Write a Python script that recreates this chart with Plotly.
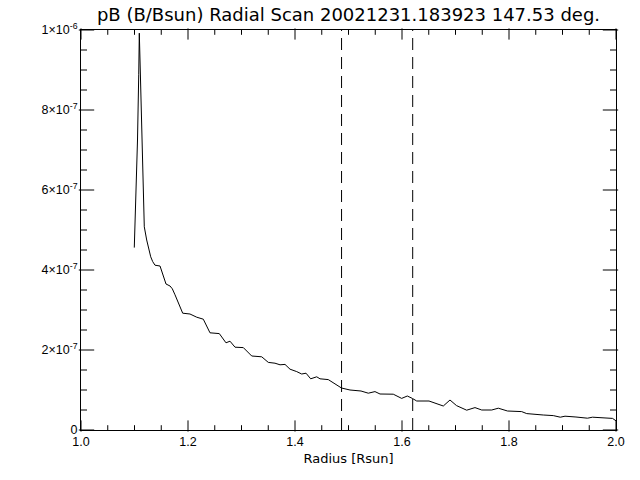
import plotly.graph_objects as go

radius = [1.0996, 1.1024, 1.1056, 1.1079, 1.1090, 1.1108, 1.1131, 1.1159, 1.1183, 1.1228,
          1.1271, 1.1303, 1.1340, 1.1383, 1.1477, 1.1520, 1.1557, 1.1589, 1.1664, 1.1707,
          1.1757, 1.1800, 1.1850, 1.1901, 1.2037, 1.2163, 1.2286, 1.2411, 1.2585, 1.2710,
          1.2785, 1.2879, 1.3034, 1.3191, 1.3378, 1.3501, 1.3626, 1.3720, 1.3813, 1.3907,
          1.4032, 1.4125, 1.4206, 1.4293, 1.4406, 1.4467, 1.4622, 1.4716, 1.4809, 1.4869,
          1.5028, 1.5234, 1.5370, 1.5495, 1.5589, 1.5837, 1.5994, 1.6099, 1.6193, 1.6275,
          1.6505, 1.6617, 1.6772, 1.6897, 1.7019, 1.7209, 1.7364, 1.7490, 1.7677, 1.7800,
          1.7972, 1.8237, 1.8331, 1.8641, 1.8828, 1.8959, 1.9047, 1.9252, 1.9467, 1.9561,
          1.9935, 2.0000]
pb = [4.56e-7, 5.63e-7, 7.25e-7, 8.88e-7, 9.92e-7, 9.00e-7, 7.55e-7, 6.25e-7, 5.08e-7, 4.75e-7,
      4.50e-7, 4.33e-7, 4.21e-7, 4.12e-7, 4.10e-7, 3.92e-7, 3.75e-7, 3.65e-7, 3.60e-7, 3.53e-7,
      3.38e-7, 3.25e-7, 3.08e-7, 2.92e-7, 2.90e-7, 2.82e-7, 2.77e-7, 2.43e-7, 2.41e-7, 2.18e-7,
      2.22e-7, 2.07e-7, 2.06e-7, 1.85e-7, 1.83e-7, 1.69e-7, 1.67e-7, 1.63e-7, 1.64e-7, 1.52e-7,
      1.46e-7, 1.40e-7, 1.42e-7, 1.28e-7, 1.33e-7, 1.28e-7, 1.26e-7, 1.18e-7, 1.08e-7, 1.05e-7,
      1.00e-7, 0.975e-7, 0.92e-7, 0.96e-7, 0.90e-7, 0.895e-7, 0.79e-7, 0.85e-7, 0.79e-7, 0.725e-7,
      0.725e-7, 0.67e-7, 0.60e-7, 0.75e-7, 0.61e-7, 0.495e-7, 0.56e-7, 0.50e-7, 0.50e-7, 0.545e-7,
      0.475e-7, 0.46e-7, 0.41e-7, 0.375e-7, 0.36e-7, 0.32e-7, 0.345e-7, 0.325e-7, 0.295e-7, 0.32e-7,
      0.29e-7, 0.23e-7]

marker_lines = [1.487, 1.620]

x_ticks = [1.0, 1.2, 1.4, 1.6, 1.8, 2.0]
x_tick_labels = ["1.0", "1.2", "1.4", "1.6", "1.8", "2.0"]
y_ticks = [0, 2e-7, 4e-7, 6e-7, 8e-7, 1e-6]
y_tick_labels = ["0", "2×10<sup>-7</sup>", "4×10<sup>-7</sup>", "6×10<sup>-7</sup>",
                 "8×10<sup>-7</sup>", "1×10<sup>-6</sup>"]
x_minor_step = 0.05
y_minor_step = 0.5e-7

title_text = "pB (B/Bsun) Radial Scan 20021231.183923 147.53 deg."
x_title = "Radius [Rsun]"

x_range = [x_ticks[0], x_ticks[-1]]
y_range = [y_ticks[0], y_ticks[-1]]

W, H = 640, 480
ML, MR, MT, MB = 81, 24, 30, 50
plot_w = W - ML - MR
plot_h = H - MT - MB

fig = go.Figure()
fig.add_trace(go.Scatter(x=radius, y=pb, mode="lines",
                         line=dict(color="black", width=1), showlegend=False,
                         hoverinfo="skip"))
for xv in marker_lines:
    fig.add_trace(go.Scatter(x=[xv, xv], y=y_range, mode="lines",
                             line=dict(color="black", width=1, dash="12px,7px"),
                             showlegend=False, hoverinfo="skip"))

# IDL-style inward ticks on all four sides, drawn as line-shaped markers
n_xm = int(round((x_range[1] - x_range[0]) / x_minor_step))
x_minor = [x_range[0] + i * x_minor_step for i in range(n_xm + 1)]
n_ym = int(round((y_range[1] - y_range[0]) / y_minor_step))
y_minor = [y_range[0] + i * y_minor_step for i in range(n_ym + 1)]

def is_major(v, majors, tol):
    return any(abs(v - m) < tol for m in majors)

XT_MAJOR, XT_MINOR = 8, 4
YT_MAJOR, YT_MINOR = 11, 5
dx_px = (x_range[1] - x_range[0]) / plot_w
dy_px = (y_range[1] - y_range[0]) / plot_h

# x-axis ticks: horizontal line markers rotated by 90 degrees
for xv in x_minor:
    L = XT_MAJOR if is_major(xv, x_ticks, 1e-6) else XT_MINOR
    off = L / 2 * dy_px
    fig.add_trace(go.Scatter(
        x=[xv, xv], y=[y_range[0] + off, y_range[1] - off], mode="markers",
        marker=dict(symbol="line-ew", size=L, angle=90, color="black",
                    line=dict(color="black", width=1)),
        showlegend=False, hoverinfo="skip", cliponaxis=False))
# y-axis ticks (left and right)
for yv in y_minor:
    L = YT_MAJOR if is_major(yv, y_ticks, 1e-12) else YT_MINOR
    off = L / 2 * dx_px
    fig.add_trace(go.Scatter(
        x=[x_range[0] + off, x_range[1] - off], y=[yv, yv], mode="markers",
        marker=dict(symbol="line-ew", size=L, color="black",
                    line=dict(color="black", width=1)),
        showlegend=False, hoverinfo="skip", cliponaxis=False))

tick_font = dict(family="Liberation Sans", size=12.5, color="black")

fig.update_layout(
    template="none",
    width=W, height=H,
    margin=dict(l=ML, r=MR, t=MT, b=MB),
    paper_bgcolor="white", plot_bgcolor="white",
    title=dict(text=title_text, xref="paper", x=0.5, xanchor="center",
               y=0.97, yanchor="middle",
               font=dict(family="DejaVu Sans", size=18, color="black")),
    xaxis=dict(range=x_range, tickmode="array", tickvals=x_ticks, ticktext=x_tick_labels,
               showgrid=False, zeroline=False, showline=True, linecolor="black",
               linewidth=1, mirror=True, ticks="", tickfont=tick_font,
               title=dict(text=x_title, font=dict(family="DejaVu Sans", size=13,
                                                  color="black"), standoff=5)),
    yaxis=dict(range=y_range, tickmode="array", tickvals=y_ticks, ticktext=y_tick_labels,
               showgrid=False, zeroline=False, showline=True, linecolor="black",
               linewidth=1, mirror=True, ticks="", tickfont=tick_font),
)

fig.write_html("out.html", config={"displayModeBar": False},
               post_script="document.body.style.margin='0px';")
